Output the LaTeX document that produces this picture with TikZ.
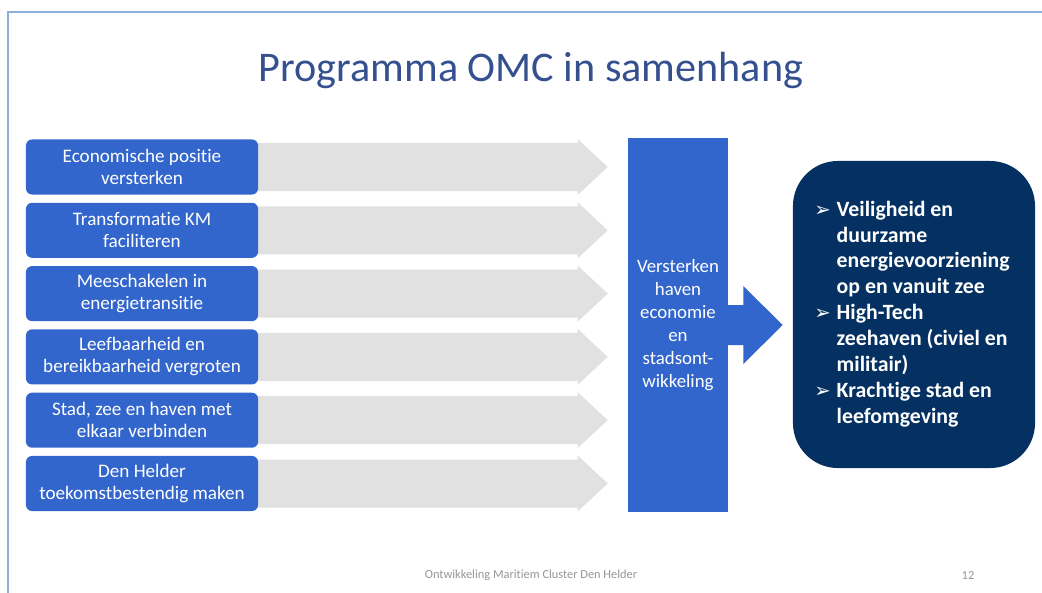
\documentclass[tikz,border=0pt]{standalone}
\usepackage{fontspec}
\setmainfont{Carlito}[Ligatures=NoCommon]
\newfontfamily\dejavu{DejaVu Sans}
\usetikzlibrary{calc}

\definecolor{slideblue}{RGB}{51,102,204}
\definecolor{slidenavy}{RGB}{4,48,98}
\definecolor{flowgray}{RGB}{225,225,225}
\definecolor{titleblue}{RGB}{52,80,142}
\definecolor{framecol}{RGB}{140,175,215}
\definecolor{footgray}{RGB}{150,150,150}

\newcommand{\outbullet}{{\dejavu\fontsize{14}{14}\selectfont ➢}}

\begin{document}
\begin{tikzpicture}[x=0.025cm,y=-0.025cm,
    goalbox/.style={fill=slideblue, rounded corners=0.15cm, minimum width=5.8cm,
      minimum height=1.375cm, inner sep=0pt, align=center, text=white,
      font=\fontsize{13.6}{15.6}\selectfont},
    hubbox/.style={fill=slideblue, minimum width=2.5cm, minimum height=9.35cm,
      inner sep=0pt, align=center, text=white, font=\fontsize{13.4}{16.3}\selectfont},
    outbox/.style={fill=slidenavy, rounded corners=1.125cm, minimum width=6.05cm,
      minimum height=7.675cm, inner sep=0pt, text=white,
      font=\bfseries\fontsize{15.5}{18.4}\selectfont},
    footer/.style={text=footgray, font=\fontsize{8.8}{10}\selectfont}]
  \useasboundingbox (0,0) rectangle (1042,593);

  % slide frame
  \draw[framecol, line width=1.2pt] (8,593) |- (1042,12);

  \node[text=titleblue, font=\fontsize{30}{36}\selectfont] (title) at (531,70)
    {Programma OMC in samenhang};

  \node[hubbox] (hub) at (678,325)
    {Versterken\\haven\\economie\\en\\stadsont-\\wikkeling};

  \foreach [count=\i] \txt in {{Economische positie\\versterken},
      {Transformatie KM\\faciliteren},
      {Meeschakelen in\\energietransitie},
      {Leefbaarheid en\\bereikbaarheid vergroten},
      {Stad, zee  en haven met\\elkaar verbinden},
      {Den Helder\\toekomstbestendig maken}} {
    \coordinate (c\i) at (142, 167 + 63.3*\i - 63.3);
    % gray flow arrow into the hub
    \fill[flowgray] ($(c\i)+(106,-24)$) -- ($(c\i -| hub.west)+(-50,-24)$)
      -- ++(0,-4) -- ($(c\i -| hub.west)+(-20,0)$)
      -- ($(c\i -| hub.west)+(-50,28)$) -- ++(0,-4)
      -- ($(c\i)+(106,24)$) -- cycle;
    \node[goalbox] (goal\i) at (c\i) {\txt};
  }

  \node[outbox] (out) at (914,314.5) {};
  \node[text=white, font=\bfseries\fontsize{15.5}{18.4}\selectfont, inner sep=0pt]
    (items) at (912,314.5) {%
    \begin{tabular}{@{}p{0.56cm}@{}l@{}}
      \outbullet & Veiligheid en\\
                 & duurzame\\
                 & energievoorziening\\
                 & op en vanuit zee\\
      \outbullet & High-Tech\\
                 & zeehaven (civiel en\\
                 & militair)\\
      \outbullet & Krachtige stad en\\
                 & leefomgeving
    \end{tabular}};

  % blue arrow from hub to result
  \fill[slideblue] ($(hub.east)+(-2,-20)$) -- ++(17,0) -- ++(0,-19)
    -- ($(hub.east -| out.west)+(-10,0)$) -- ($(hub.east)+(15,39)$)
    -- ++(0,-19) -- ++(-17,0) -- cycle;

  \node[footer] (foot) at (531,575) {Ontwikkeling Maritiem Cluster Den Helder};
  \node[footer] (page) at (968,575) {12};
\end{tikzpicture}
\end{document}
